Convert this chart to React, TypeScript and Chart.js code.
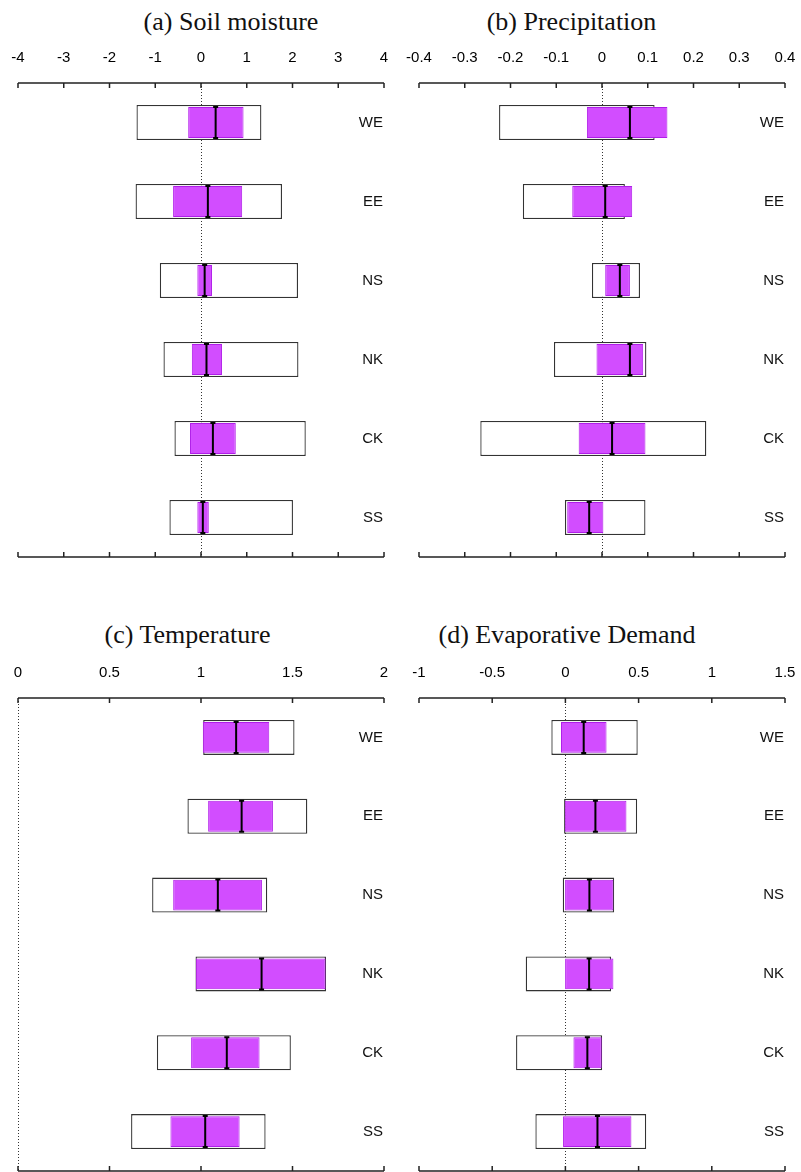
import React, { useEffect, useRef } from 'react';
import { Chart, registerables } from 'chart.js';

Chart.register(...registerables);

// ---------- data ----------
const REGIONS = ['WE', 'EE', 'NS', 'NK', 'CK', 'SS'];

// (a) Soil moisture
const SOIL_OUTER_LO = [-1.41, -1.43, -0.9, -0.82, -0.58, -0.69];
const SOIL_OUTER_HI = [1.32, 1.77, 2.12, 2.13, 2.29, 2.01];
const SOIL_INNER_LO = [-0.28, -0.61, -0.08, -0.2, -0.24, -0.08];
const SOIL_INNER_HI = [0.93, 0.9, 0.24, 0.46, 0.76, 0.17];
const SOIL_MID = [0.32, 0.15, 0.08, 0.12, 0.26, 0.04];
const SOIL_TICKS = [-4, -3, -2, -1, 0, 1, 2, 3, 4];

// (b) Precipitation
const PREC_OUTER_LO = [-0.225, -0.173, -0.022, -0.105, -0.266, -0.081];
const PREC_OUTER_HI = [0.115, 0.05, 0.083, 0.097, 0.228, 0.095];
const PREC_INNER_LO = [-0.033, -0.065, 0.007, -0.012, -0.051, -0.076];
const PREC_INNER_HI = [0.143, 0.066, 0.061, 0.09, 0.095, 0.003];
const PREC_MID = [0.061, 0.007, 0.039, 0.061, 0.022, -0.028];
const PREC_TICKS = [-0.4, -0.3, -0.2, -0.1, 0, 0.1, 0.2, 0.3, 0.4];

// (c) Temperature
const TEMP_OUTER_LO = [1.012, 0.926, 0.733, 0.97, 0.759, 0.618];
const TEMP_OUTER_HI = [1.511, 1.581, 1.362, 1.683, 1.491, 1.353];
const TEMP_INNER_LO = [1.01, 1.039, 0.848, 0.972, 0.946, 0.833];
const TEMP_INNER_HI = [1.373, 1.393, 1.333, 1.681, 1.32, 1.211];
const TEMP_MID = [1.192, 1.222, 1.092, 1.331, 1.141, 1.023];
const TEMP_TICKS = [0, 0.5, 1, 1.5, 2];

// (d) Evaporative Demand
const EVAP_OUTER_LO = [-0.096, -0.009, -0.018, -0.271, -0.337, -0.205];
const EVAP_OUTER_HI = [0.494, 0.49, 0.333, 0.312, 0.251, 0.552];
const EVAP_INNER_LO = [-0.03, -0.004, -0.002, -0.002, 0.055, -0.016];
const EVAP_INNER_HI = [0.281, 0.417, 0.328, 0.328, 0.248, 0.451];
const EVAP_MID = [0.125, 0.205, 0.164, 0.162, 0.15, 0.219];
const EVAP_TICKS = [-1, -0.5, 0, 0.5, 1, 1.5];

// ---------- styling ----------
const SANS = '"Liberation Sans", Arial, Helvetica, sans-serif';
const SERIF = '"Liberation Serif", "Times New Roman", Times, serif';
const PURPLE_FILL = '#D24DFF';
const PURPLE_EDGE = '#B01EE8';

const decorPlugin = {
  id: 'decor',
  beforeDatasetsDraw(chart: any) {
    const { ctx, chartArea: a } = chart;
    const x = chart.scales.x;
    const zx = Math.round(x.getPixelForValue(0)) + 0.5;
    ctx.save();
    ctx.strokeStyle = '#333';
    ctx.lineWidth = 1;
    ctx.setLineDash([1, 2]);
    ctx.beginPath();
    ctx.moveTo(zx, a.top);
    ctx.lineTo(zx, a.bottom);
    ctx.stroke();
    ctx.restore();
  },
  afterDatasetsDraw(chart: any, _args: any, opts: any) {
    const { ctx, chartArea: a } = chart;
    const x = chart.scales.x;
    const y = chart.scales.y;
    ctx.save();
    // median markers
    ctx.strokeStyle = '#000';
    ctx.lineWidth = 2;
    const mids: number[] = opts.mid || [];
    const hh = 15.5;
    mids.forEach((v, i) => {
      const px = x.getPixelForValue(v);
      const py = y.getPixelForValue(i);
      ctx.beginPath();
      ctx.moveTo(px, py - hh);
      ctx.lineTo(px, py + hh);
      ctx.moveTo(px - 2.5, py - hh);
      ctx.lineTo(px + 2.5, py - hh);
      ctx.moveTo(px - 2.5, py + hh);
      ctx.lineTo(px + 2.5, py + hh);
      ctx.stroke();
    });
    // category labels inside plot, right aligned
    ctx.fillStyle = '#111';
    ctx.font = '15px ' + SANS;
    ctx.textAlign = 'right';
    ctx.textBaseline = 'middle';
    const labels: string[] = chart.data.labels;
    labels.forEach((lab, i) => {
      ctx.fillText(lab, a.right - 1, y.getPixelForValue(i));
    });
    // axis lines with inward ticks (top and bottom)
    ctx.strokeStyle = '#222';
    ctx.lineWidth = 1.5;
    ctx.beginPath();
    ctx.moveTo(a.left, a.top);
    ctx.lineTo(a.right, a.top);
    ctx.moveTo(a.left, a.bottom);
    ctx.lineTo(a.right, a.bottom);
    x.ticks.forEach((t: any) => {
      const px = x.getPixelForValue(t.value);
      ctx.moveTo(px, a.top);
      ctx.lineTo(px, a.top + 5);
      ctx.moveTo(px, a.bottom);
      ctx.lineTo(px, a.bottom - 5);
    });
    ctx.stroke();
    ctx.restore();
  },
};

type PanelProps = {
  left: number;
  top: number;
  width: number;
  height: number;
  pad: { left: number; right: number; top: number; bottom: number };
  outerLo: number[];
  outerHi: number[];
  innerLo: number[];
  innerHi: number[];
  mid: number[];
  ticks: number[];
};

function Panel(p: PanelProps) {
  const ref = useRef<HTMLCanvasElement | null>(null);
  useEffect(() => {
    if (!ref.current) return;
    const tmin = p.ticks[0];
    const tmax = p.ticks[p.ticks.length - 1];
    const chart = new Chart(ref.current, {
      type: 'bar',
      data: {
        labels: REGIONS,
        datasets: [
          {
            label: 'inner',
            data: REGIONS.map((_, i) => [p.innerLo[i], p.innerHi[i]]) as any,
            backgroundColor: PURPLE_FILL,
            borderColor: PURPLE_EDGE,
            borderWidth: 1,
            borderSkipped: false,
            barPercentage: 0.392,
            categoryPercentage: 1,
            grouped: false,
            order: 1,
          },
          {
            label: 'outer',
            data: REGIONS.map((_, i) => [p.outerLo[i], p.outerHi[i]]) as any,
            backgroundColor: '#ffffff',
            borderColor: '#333333',
            borderWidth: 1.3,
            borderSkipped: false,
            barPercentage: 0.443,
            categoryPercentage: 1,
            grouped: false,
            order: 2,
          },
        ],
      },
      options: {
        indexAxis: 'y',
        animation: false,
        responsive: false,
        devicePixelRatio: 1,
        layout: { padding: p.pad },
        plugins: {
          legend: { display: false },
          tooltip: { enabled: false },
          title: { display: false },
          decor: { mid: p.mid },
        } as any,
        scales: {
          x: {
            type: 'linear',
            position: 'top',
            min: tmin,
            max: tmax,
            border: { display: false },
            grid: { display: false, drawTicks: false },
            afterBuildTicks: (scale: any) => {
              scale.ticks = p.ticks.map((v) => ({ value: v }));
            },
            afterFit: (scale: any) => {
              scale.height = 40;
              scale.paddingLeft = 0;
              scale.paddingRight = 0;
              scale.paddingTop = 0;
              scale.paddingBottom = 0;
            },
            ticks: {
              color: '#000',
              padding: 16,
              maxRotation: 0,
              autoSkip: false,
              font: { family: SANS, size: 15 },
              callback: (v: any) => String(v),
            },
          },
          y: {
            type: 'category',
            display: false,
            offset: true,
          },
        },
      } as any,
      plugins: [decorPlugin],
    });
    return () => chart.destroy();
  }, []);
  return (
    <canvas
      ref={ref}
      width={p.width}
      height={p.height}
      style={{ position: 'absolute', left: p.left, top: p.top, width: p.width, height: p.height }}
    />
  );
}

function Title({ text, cx, cy }: { text: string; cx: number; cy: number }) {
  return (
    <div
      style={{
        position: 'absolute',
        left: cx - 200,
        top: cy - 15,
        width: 400,
        height: 30,
        lineHeight: '30px',
        textAlign: 'center',
        fontFamily: SERIF,
        fontSize: 26,
        color: '#111',
        whiteSpace: 'nowrap',
      }}
    >
      {text}
    </div>
  );
}

export default function App() {
  return (
    <div
      style={{
        position: 'absolute',
        left: 0,
        top: 0,
        width: 801,
        height: 1172,
        background: '#fff',
        overflow: 'hidden',
      }}
    >
      <Title text="(a) Soil moisture" cx={231} cy={22} />
      <Title text="(b) Precipitation" cx={571.5} cy={22} />
      <Title text="(c) Temperature" cx={187.5} cy={635} />
      <Title text="(d) Evaporative Demand" cx={567} cy={635} />
      <Panel
        left={0}
        top={0}
        width={400}
        height={580}
        pad={{ left: 18, right: 16, top: 43, bottom: 23 }}
        outerLo={SOIL_OUTER_LO}
        outerHi={SOIL_OUTER_HI}
        innerLo={SOIL_INNER_LO}
        innerHi={SOIL_INNER_HI}
        mid={SOIL_MID}
        ticks={SOIL_TICKS}
      />
      <Panel
        left={400}
        top={0}
        width={401}
        height={580}
        pad={{ left: 19, right: 16, top: 43, bottom: 23 }}
        outerLo={PREC_OUTER_LO}
        outerHi={PREC_OUTER_HI}
        innerLo={PREC_INNER_LO}
        innerHi={PREC_INNER_HI}
        mid={PREC_MID}
        ticks={PREC_TICKS}
      />
      <Panel
        left={0}
        top={600}
        width={400}
        height={572}
        pad={{ left: 18, right: 16, top: 58, bottom: 1 }}
        outerLo={TEMP_OUTER_LO}
        outerHi={TEMP_OUTER_HI}
        innerLo={TEMP_INNER_LO}
        innerHi={TEMP_INNER_HI}
        mid={TEMP_MID}
        ticks={TEMP_TICKS}
      />
      <Panel
        left={400}
        top={600}
        width={401}
        height={572}
        pad={{ left: 19, right: 16, top: 58, bottom: 1 }}
        outerLo={EVAP_OUTER_LO}
        outerHi={EVAP_OUTER_HI}
        innerLo={EVAP_INNER_LO}
        innerHi={EVAP_INNER_HI}
        mid={EVAP_MID}
        ticks={EVAP_TICKS}
      />
    </div>
  );
}
